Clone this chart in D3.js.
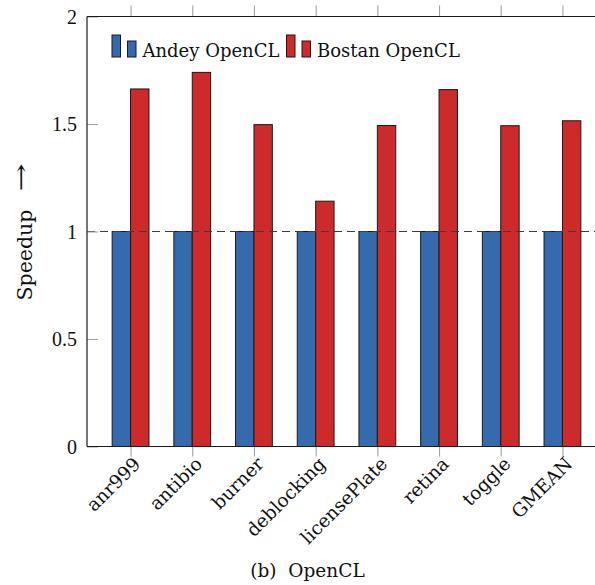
<!DOCTYPE html>
<html>
<head>
<meta charset="utf-8">
<script src="https://cdn.jsdelivr.net/npm/d3@7"></script>
<style>
  html, body { margin: 0; padding: 0; background: #fff; }
  svg { display: block; }
</style>
</head>
<body>
<script>
// Benchmarks on the x axis
const categories = ["anr999", "antibio", "burner", "deblocking", "licensePlate", "retina", "toggle", "GMEAN"];

// Speedup of each implementation, normalised to Andey OpenCL
const andeyOpenCL  = [1, 1, 1, 1, 1, 1, 1, 1];
const bostanOpenCL = [1.663, 1.740, 1.497, 1.141, 1.493, 1.660, 1.492, 1.515];

const seriesNames  = ["Andey OpenCL", "Bostan OpenCL"];
const seriesColors = ["#356aad", "#cc2a2b"];

const yTicks = [0, 0.5, 1, 1.5, 2];
const yTickLabels = ["0", "0.5", "1", "1.5", "2"];
const yLabel = "Speedup";
const caption = "(b)  OpenCL";
const baseline = 1;

const W = 595, H = 585;
const plotLeft = 87, plotRight = 606, plotTop = 16.5, plotBottom = 446.5;
const barW = 18.4;

const svg = d3.select("body").append("svg")
  .attr("width", W).attr("height", H)
  .attr("viewBox", `0 0 ${W} ${H}`);

const x = d3.scalePoint().domain(categories).range([plotLeft, plotRight]).padding(0.706);
const y = d3.scaleLinear().domain([0, 2]).range([plotBottom, plotTop]);

const textFont = "'DejaVu Serif', serif";
const numFont = "'Liberation Serif', serif";
const tickColor = "#a3a3a3";

// Bars: one group per benchmark, Andey left of the tick, Bostan right of it
const series = [andeyOpenCL, bostanOpenCL];
series.forEach((vals, s) => {
  svg.append("g").selectAll("rect")
    .data(categories.map((c, i) => ({ c, v: vals[i] })))
    .join("rect")
    .attr("x", d => x(d.c) + (s === 0 ? -barW : 0))
    .attr("y", d => y(d.v))
    .attr("width", barW)
    .attr("height", d => y(0) - y(d.v))
    .attr("fill", seriesColors[s])
    .attr("stroke", "#1a1a1a")
    .attr("stroke-width", 1);
});

// Reference line at speedup 1
svg.append("line")
  .attr("x1", plotLeft).attr("x2", plotRight)
  .attr("y1", y(baseline)).attr("y2", y(baseline))
  .attr("stroke", "#3c3c3c").attr("stroke-width", 1.2)
  .attr("stroke-dasharray", "8,5");

// Left axis with inward ticks
const yAxis = svg.append("g")
  .attr("transform", `translate(${plotLeft},0)`)
  .call(d3.axisLeft(y).tickValues(yTicks)
    .tickFormat((d, i) => yTickLabels[i])
    .tickSizeInner(-11).tickSizeOuter(0).tickPadding(10));
yAxis.select(".domain").remove();
yAxis.selectAll(".tick line").attr("stroke", tickColor).attr("stroke-width", 1.1);
yAxis.selectAll(".tick text")
  .attr("font-family", numFont).attr("font-size", 20).attr("fill", "#111")
  .attr("dy", "0.34em");

// Top axis: ticks only
const topAxis = svg.append("g")
  .attr("transform", `translate(0,${plotTop})`)
  .call(d3.axisTop(x).tickSize(11).tickFormat(""));
topAxis.select(".domain").remove();
topAxis.selectAll(".tick line").attr("stroke", tickColor).attr("stroke-width", 1.1);

// Bottom axis with rotated benchmark names
const xAxis = svg.append("g")
  .attr("transform", `translate(0,${plotBottom})`)
  .call(d3.axisBottom(x).tickSize(10).tickSizeOuter(0));
xAxis.select(".domain").remove();
xAxis.selectAll(".tick line").attr("stroke", tickColor).attr("stroke-width", 1.1);
xAxis.selectAll(".tick text")
  .attr("font-family", textFont).attr("font-size", 18.5).attr("fill", "#111")
  .attr("text-anchor", "end")
  .attr("y", 0).attr("dy", "0.35em")
  .attr("transform", "translate(6,14) rotate(-45)");

// Frame: left, top and bottom edges
const frame = svg.append("g").attr("stroke", "#1a1a1a").attr("stroke-width", 1.2).attr("fill", "none");
frame.append("line").attr("x1", plotLeft).attr("x2", plotLeft).attr("y1", plotTop).attr("y2", plotBottom);
frame.append("line").attr("x1", plotLeft).attr("x2", plotRight).attr("y1", plotTop).attr("y2", plotTop);
frame.append("line").attr("x1", plotLeft).attr("x2", plotRight).attr("y1", plotBottom).attr("y2", plotBottom);

// Y axis title: word plus an arrow pointing towards higher values
const yTitle = svg.append("g")
  .attr("transform", `translate(32,0) rotate(-90)`)
  .attr("font-family", textFont).attr("fill", "#111");
yTitle.append("text")
  .attr("x", -255).attr("y", 0)
  .attr("text-anchor", "middle")
  .attr("font-size", 20.5)
  .text(yLabel);
yTitle.append("g")
  .attr("transform", "translate(-177.5,-4) scale(1.6,1)")
  .append("text")
  .attr("text-anchor", "middle")
  .attr("font-size", 21)
  .text("\u2192");

// Legend
const legend = svg.append("g").attr("transform", "translate(112,57)");
const legendOffsets = [0, 174.5];
seriesNames.forEach((name, s) => {
  const g = legend.append("g").attr("transform", `translate(${legendOffsets[s]},0)`);
  g.append("rect").attr("x", 0).attr("y", -22).attr("width", 8.5).attr("height", 22)
    .attr("fill", seriesColors[s]).attr("stroke", "#1a1a1a").attr("stroke-width", 1);
  g.append("rect").attr("x", 15.5).attr("y", -16).attr("width", 8.5).attr("height", 16)
    .attr("fill", seriesColors[s]).attr("stroke", "#1a1a1a").attr("stroke-width", 1);
  g.append("text").attr("x", 30.5).attr("y", 0)
    .attr("font-family", textFont).attr("font-size", 18).attr("fill", "#111")
    .text(name);
});

// Caption
svg.append("text")
  .attr("x", 307.5).attr("y", 577)
  .attr("text-anchor", "middle")
  .style("white-space", "pre")
  .attr("font-family", textFont).attr("font-size", 18.5).attr("fill", "#111")
  .text(caption);
</script>
</body>
</html>
